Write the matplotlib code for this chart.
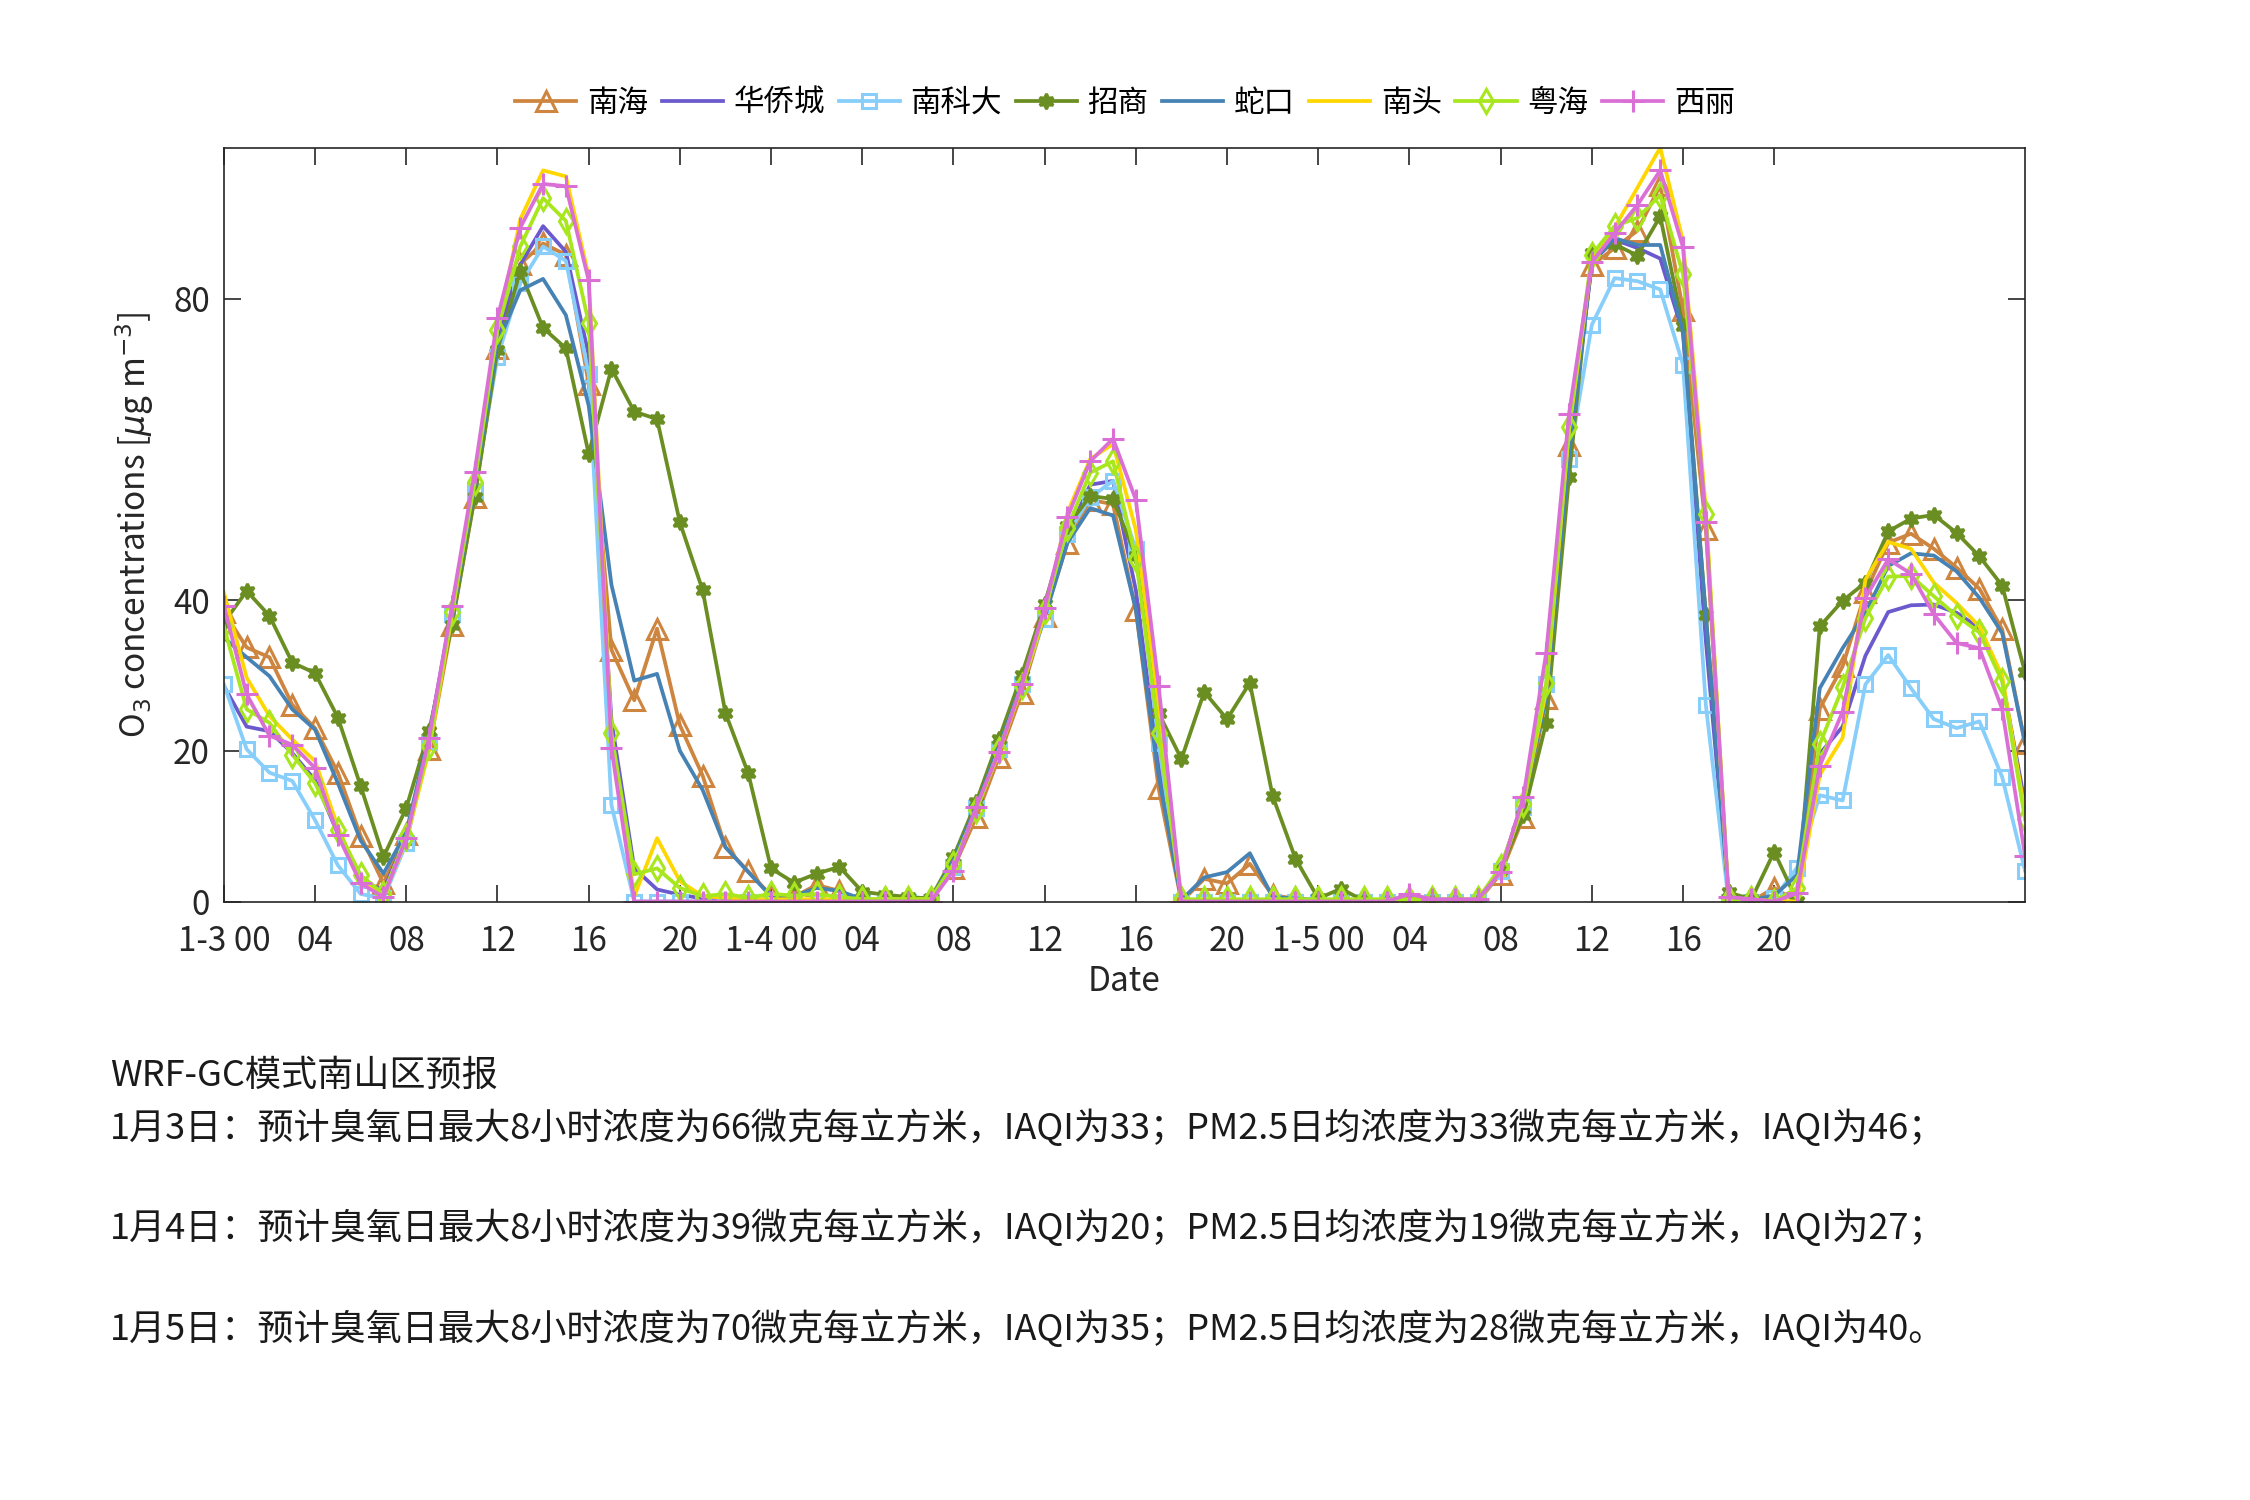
import matplotlib
matplotlib.use('Agg')
import matplotlib.pyplot as plt
import numpy as np

# -------------------- Dados: O3 horário (ug/m3), 1-3 00 até 1-6 07 --------------------
horas = np.arange(80)

nanhai = [38.4, 33.7, 32.4, 26.1, 23.0, 17.1, 8.7, 2.4, 9.0, 20.2, 36.7, 53.7,
          73.4, 84.6, 87.3, 85.8, 68.7, 33.4, 26.7, 36.2, 23.4, 16.7, 7.2, 4.0,
          0.8, 0.6, 2.2, 1.4, 0, 0, 0, 0, 4.4, 11.2, 19.2, 27.7,
          37.9, 47.6, 53.3, 52.7, 38.7, 15.0, 0, 3.0, 2.4, 5.0, 0.8, 0.4,
          0, 0, 0, 0, 0, 0, 0, 0, 3.7, 11.2, 27.0, 60.5,
          84.4, 86.7, 89.0, 95.0, 78.5, 49.4, 0, 0, 1.8, 0, 25.6, 31.2,
          41.0, 47.6, 48.8, 46.8, 44.3, 41.5, 36.1, 21.0]

huaqiaocheng = [28.6, 23.2, 22.6, 19.7, 16.1, 9.0, 2.8, 1.5, 8.6, 21.9, 38.8, 56.0,
                75.0, 84.5, 89.6, 86.2, 72.5, 24.0, 4.4, 1.6, 0.9, 0.4, 0.3, 0.2,
                0.2, 0.2, 0.2, 0.2, 0.1, 0.1, 0.1, 0.1, 5.0, 12.8, 20.5, 29.0,
                38.5, 48.7, 55.3, 55.8, 41.3, 17.9, 0.2, 0.1, 0.1, 0.1, 0.1, 0.1,
                0.1, 0.1, 0.1, 0.1, 0.1, 0.1, 0.1, 0.1, 4.3, 13.5, 27.5, 60.0,
                84.8, 87.8, 86.7, 85.3, 75.4, 34.6, 0.5, 0.2, 0.3, 1.0, 19.6, 23.2,
                32.6, 38.4, 39.3, 39.4, 38.3, 36.3, 29.4, 13.0]

nankeda = [28.8, 20.2, 17.1, 16.0, 10.8, 4.8, 1.0, 0.4, 7.7, 21.2, 38.1, 54.5,
           72.2, 82.0, 86.9, 85.0, 70.0, 12.8, 0, 0, 0, 0, 0, 0,
           0, 0, 0, 0, 0, 0, 0, 0, 4.6, 12.4, 20.2, 28.9,
           37.5, 48.7, 53.6, 55.8, 46.7, 21.0, 0, 0, 0, 0, 0, 0,
           0, 0, 0, 0, 0, 0, 0, 0, 4.1, 12.6, 28.8, 58.7,
           76.5, 82.7, 82.3, 81.2, 71.2, 26.1, 0, 0, 0.4, 4.5, 14.1, 13.4,
           28.8, 32.7, 28.3, 24.2, 23.0, 23.9, 16.5, 4.1]

zhaoshang = [37.0, 41.2, 37.9, 31.7, 30.3, 24.4, 15.3, 5.9, 12.4, 22.6, 36.7, 53.6,
             73.2, 83.6, 76.1, 73.4, 59.4, 70.7, 65.0, 64.0, 50.3, 41.3, 25.0, 17.0,
             4.4, 2.5, 3.7, 4.6, 1.3, 0.9, 0.6, 0.4, 5.9, 13.2, 21.6, 30.1,
             39.5, 49.8, 53.8, 53.4, 45.8, 25.0, 18.9, 27.8, 24.2, 29.0, 14.0, 5.7,
             0.4, 1.7, 0.1, 0, 0, 0, 0, 0, 4.3, 11.5, 23.7, 56.3,
             86.0, 87.2, 85.7, 90.9, 76.3, 38.0, 1.2, 0.3, 6.6, 0.1, 36.5, 39.9,
             42.3, 49.1, 50.8, 51.3, 48.9, 45.8, 41.9, 30.4]

shekou = [35.0, 32.4, 29.9, 25.5, 22.8, 15.7, 8.1, 3.7, 9.2, 22.1, 37.5, 55.3,
          74.0, 81.1, 82.6, 77.8, 65.8, 42.0, 29.3, 30.2, 20.0, 14.8, 7.2, 3.9,
          0.7, 0.7, 1.8, 1.4, 0.3, 0.2, 0.2, 0.2, 5.5, 12.6, 20.6, 29.0,
          37.7, 47.6, 52.2, 51.2, 38.7, 16.6, 0.2, 3.2, 3.9, 6.4, 0.6, 0.4,
          0.2, 0.2, 0.2, 0.2, 0.2, 0.2, 0.2, 0.2, 4.3, 13.0, 27.0, 59.0,
          84.8, 88.0, 87.1, 87.1, 75.6, 38.0, 0.5, 0.2, 0.8, 3.5, 28.3, 33.6,
          38.3, 44.5, 46.2, 45.9, 43.8, 40.3, 35.6, 21.0]

nantou = [41.0, 29.7, 24.6, 21.5, 18.6, 9.9, 3.0, 0.8, 8.1, 20.1, 37.9, 56.4,
          76.0, 90.5, 97.0, 96.2, 83.0, 22.0, 0.7, 8.4, 2.7, 0.7, 0.5, 0.3,
          0.3, 0.3, 0.3, 0.3, 0.3, 0.3, 0.3, 0.3, 4.6, 12.2, 19.8, 28.5,
          38.0, 51.6, 58.7, 60.7, 49.3, 25.9, 0.1, 0.1, 0.1, 0.1, 0.1, 0.1,
          0.1, 0.1, 0.1, 0.1, 0.1, 0.1, 0.1, 0.1, 4.2, 13.0, 28.0, 62.5,
          85.0, 89.4, 94.7, 100.0, 87.6, 52.0, 0.3, 0.2, 0.1, 0, 16.8, 21.7,
          42.7, 47.7, 46.8, 42.3, 39.6, 36.5, 29.9, 11.7]

yuehai = [36.5, 25.5, 23.7, 19.5, 15.7, 9.5, 3.5, 1.0, 8.6, 20.6, 38.4, 55.6,
          75.8, 86.9, 93.3, 90.3, 76.8, 22.3, 3.6, 4.4, 1.8, 0.7, 1.0, 0.5,
          1.0, 0.8, 1.0, 0.6, 0.3, 0.3, 0.3, 0.3, 5.0, 12.1, 20.1, 28.6,
          38.6, 49.6, 56.9, 58.4, 45.5, 22.4, 0.3, 0.3, 0.3, 0.3, 0.3, 0.3,
          0.3, 0.3, 0.3, 0.3, 0.3, 0.3, 0.3, 0.3, 4.6, 13.0, 29.0, 62.9,
          85.8, 89.6, 90.7, 93.7, 83.2, 51.4, 0.3, 0.3, 0, 1.8, 20.9, 28.4,
          37.6, 43.1, 43.2, 40.5, 37.9, 35.7, 29.2, 10.9]

xili = [39.2, 27.5, 22.0, 20.8, 17.7, 8.8, 2.4, 0.6, 8.4, 21.7, 39.2, 57.0,
        77.4, 89.4, 95.2, 94.9, 82.4, 20.3, 0, 0, 0, 0, 0, 0,
        0, 0, 0, 0, 0, 0, 0, 0, 4.1, 12.6, 19.9, 28.8,
        39.0, 51.0, 58.4, 61.4, 53.3, 28.6, 0, 0, 0, 0, 0, 0,
        0, 0, 0, 0, 1.0, 0.3, 0.3, 0.3, 3.9, 13.9, 33.0, 64.7,
        84.8, 88.7, 92.4, 97.0, 86.8, 50.4, 0.6, 0.3, 0, 1.1, 18.0, 25.2,
        40.3, 45.4, 43.5, 38.1, 34.3, 33.6, 25.5, 6.1]

estacoes = ['南海', '华侨城', '南科大', '招商', '蛇口', '南头', '粤海', '西丽']
series = [nanhai, huaqiaocheng, nankeda, zhaoshang, shekou, nantou, yuehai, xili]

# rótulos do eixo x (a cada 4 horas)
xtick_pos = np.arange(0, 69, 4)
xtick_labels = ['1-3 00', '04', '08', '12', '16', '20',
                '1-4 00', '04', '08', '12', '16', '20',
                '1-5 00', '04', '08', '12', '16', '20']
ytick_pos = [0, 20, 40, 80]

texto_previsao = [
    'WRF-GC模式南山区预报',
    '1月3日：预计臭氧日最大8小时浓度为66微克每立方米，IAQI为33；PM2.5日均浓度为33微克每立方米，IAQI为46；',
    '1月4日：预计臭氧日最大8小时浓度为39微克每立方米，IAQI为20；PM2.5日均浓度为19微克每立方米，IAQI为27；',
    '1月5日：预计臭氧日最大8小时浓度为70微克每立方米，IAQI为35；PM2.5日均浓度为28微克每立方米，IAQI为40。',
]

# -------------------- Estilos --------------------
cores = ['#CD853F', '#6A5ACD', '#87CEFA', '#6B8E23', '#4682B4', '#FFD700', '#A8E61E', '#DA70D6']
marcadores = ['^', None, 's', (6, 1, 0), None, None, 'd', '+']
tamanhos = [7, 0, 5, 5.5, 0, 0, 6, 8]
preenchido = ['none', 'none', 'none', '#6B8E23', 'none', 'none', 'none', 'none']

plt.rcParams['font.family'] = ['Noto Sans CJK SC', 'DejaVu Sans']
plt.rcParams['mathtext.fontset'] = 'dejavusans'

fig = plt.figure(figsize=(11.25, 7.5), dpi=200)
ax = fig.add_axes([0.0995, 0.399, 0.8005, 0.5025])

for nome, valores, cor, mk, ms, fc in zip(estacoes, series, cores, marcadores, tamanhos, preenchido):
    ax.plot(horas, valores, color=cor, lw=1.35, marker=mk, markersize=ms,
            markerfacecolor=fc, markeredgewidth=1.1, label=nome)

ax.set_xlim(0, 79)
ax.set_ylim(0, 100)
ax.set_xticks(xtick_pos)
ax.set_xticklabels(xtick_labels)
ax.set_yticks(ytick_pos)
ax.tick_params(direction='in', length=6, width=0.6, top=True, right=True,
               labelsize=12, colors='#262626')
ax.tick_params(axis='x', pad=8)
ax.tick_params(axis='y', pad=5)
for sp in ax.spines.values():
    sp.set_linewidth(0.6)
    sp.set_color('#262626')

ax.set_xlabel('Date', fontsize=12, color='#262626', labelpad=2)
ax.set_ylabel(r'O$_3$ concentrations [$\mu$g m$^{-3}$]', fontsize=12, color='#262626', labelpad=6)

fig.legend(loc='center', bbox_to_anchor=(0.5, 0.931), ncol=8, frameon=False,
           fontsize=11, handlelength=2.0, handletextpad=0.35, columnspacing=0.45)

# texto da previsão abaixo do gráfico
ys = [0.283, 0.248, 0.181, 0.114]
for txt, y in zip(texto_previsao, ys):
    fig.text(0.049, y, txt, fontsize=13, color='#1a1a1a', va='center', ha='left')

fig.savefig('out.png', dpi=200, facecolor='white')
